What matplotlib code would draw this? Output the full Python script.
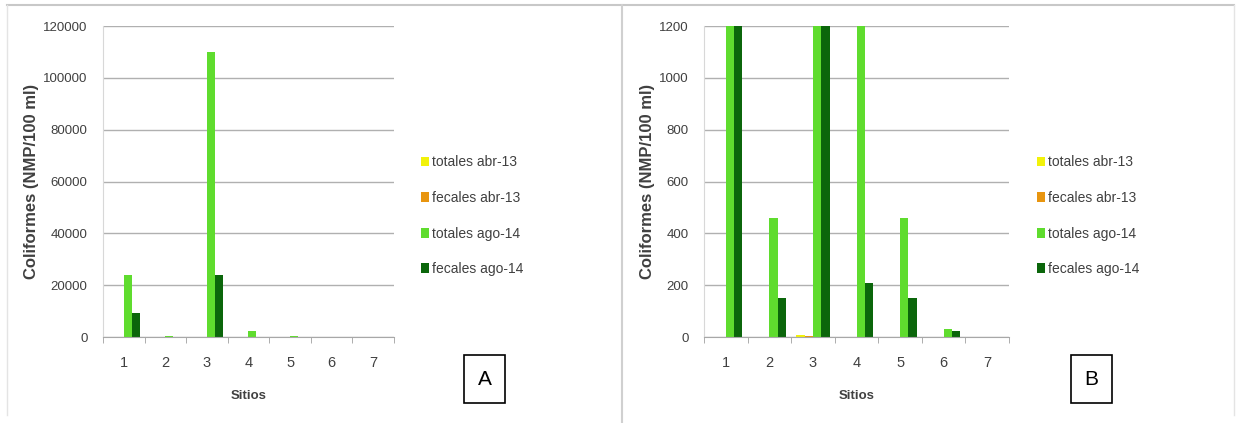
'''Coliformes por sitio, paneles A y B.'''
import numpy as np
import matplotlib.pyplot as plt
from matplotlib.patches import Rectangle
from matplotlib.lines import Line2D

plt.rcParams['font.family'] = ['Liberation Sans', 'DejaVu Sans']

sitios = ['1', '2', '3', '4', '5', '6', '7']
series = ['totales abr-13', 'fecales abr-13', 'totales ago-14', 'fecales ago-14']
colores = ['#f2f20a', '#e8950f', '#5fdc2e', '#0b660b']

# panel A
a_tot_abr = [0, 0, 9, 0, 0, 0, 0]
a_fec_abr = [0, 0, 4, 0, 0, 0, 0]
a_tot_ago = [24000, 460, 110000, 2400, 460, 30, 0]
a_fec_ago = [9300, 150, 24000, 0, 150, 23, 0]

# panel B
b_tot_abr = [0, 0, 9, 0, 0, 0, 0]
b_fec_abr = [0, 0, 4, 0, 0, 0, 0]
b_tot_ago = [1200, 460, 1200, 1200, 460, 30, 0]
b_fec_ago = [1200, 150, 1200, 210, 150, 23, 0]

fig = plt.figure(figsize=(12.36, 4.23), dpi=100)

# marco de la figura
fig.add_artist(Line2D([0.006, 0.998], [0.987, 0.987], color='#c8c8c8', lw=1.5))
fig.add_artist(Line2D([0.006, 0.006], [0.02, 0.987], color='#e4e4e4', lw=1))
fig.add_artist(Line2D([0.503, 0.503], [0.0, 0.987], color='#d0d0d0', lw=1.5))
fig.add_artist(Line2D([0.998, 0.998], [0.02, 0.987], color='#e4e4e4', lw=1))


def panel(rect, data, ymax, ystep, leg_x, letra, letra_rect):
    ax = fig.add_axes(rect)
    x = np.arange(len(sitios))
    w = 0.19
    offs = [-1.5 * w, -0.5 * w, 0.5 * w, 1.5 * w]
    for vals, c, o, lab in zip(data, colores, offs, series):
        ax.bar(x + o, vals, w, color=c, label=lab, zorder=3)
    ax.set_xlim(-0.5, len(sitios) - 0.5)
    ax.set_ylim(0, ymax)
    ax.set_yticks(np.arange(0, ymax + 1, ystep))
    ax.set_xticks(x)
    ax.set_xticklabels(sitios)
    ax.set_xticks(np.arange(-0.5, len(sitios)), minor=True)
    ax.tick_params(axis='x', which='major', length=0, pad=14, labelsize=10.5, labelcolor='#404040')
    ax.tick_params(axis='x', which='minor', length=4, color='#a0a0a0', direction='out')
    ax.tick_params(axis='y', length=0, pad=11, labelsize=9.5, labelcolor='#404040')
    ax.grid(axis='y', color='#b0b0b0', lw=1, zorder=0)
    for s in ['top', 'right']:
        ax.spines[s].set_visible(False)
    ax.spines['left'].set_color('#d8d8d8')
    ax.spines['bottom'].set_color('#a8a8a8')
    ax.spines['bottom'].set_zorder(4)
    ax.set_xlabel('Sitios', fontweight='bold', fontsize=9.5, color='#404040', labelpad=14)
    ax.set_ylabel('Coliformes (NMP/100 ml)', fontweight='bold', fontsize=12, color='#404040', labelpad=3)
    ax.legend(loc='center left', bbox_to_anchor=(leg_x, 0.39), frameon=False, fontsize=10,
              handlelength=0.6, handleheight=0.7, handletextpad=0.2, labelspacing=1.55,
              labelcolor='#404040')
    fig.add_artist(Rectangle(letra_rect[:2], letra_rect[2], letra_rect[3], transform=fig.transFigure,
                             fill=False, ec='black', lw=1.2))
    fig.text(letra_rect[0] + letra_rect[2] / 2, letra_rect[1] + letra_rect[3] / 2, letra,
             ha='center', va='center', fontsize=15)
    return ax


panel([0.0833, 0.2033, 0.2355, 0.735], [a_tot_abr, a_fec_abr, a_tot_ago, a_fec_ago],
      120000, 20000, 1.05, 'A', (0.3754, 0.047, 0.0332, 0.113))
panel([0.5696, 0.2033, 0.2468, 0.735], [b_tot_abr, b_fec_abr, b_tot_ago, b_fec_ago],
      1200, 200, 1.05, 'B', (0.8665, 0.047, 0.0332, 0.113))

plt.savefig('out.png', dpi=100)
